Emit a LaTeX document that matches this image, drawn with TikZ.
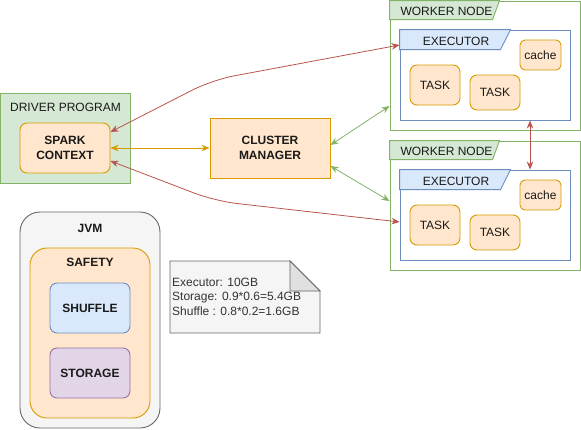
\documentclass[tikz,border=0pt]{standalone}
\usepackage{fontspec}
\setmainfont{Liberation Sans}
\usetikzlibrary{arrows.meta,calc}
\definecolor{gfill}{HTML}{D5E8D4}
\definecolor{gline}{HTML}{82B366}
\definecolor{ofill}{HTML}{FFE6CC}
\definecolor{oline}{HTML}{D79B00}
\definecolor{bfill}{HTML}{DAE8FC}
\definecolor{bline}{HTML}{6C8EBF}
\definecolor{pfill}{HTML}{E1D5E7}
\definecolor{pline}{HTML}{9673A6}
\definecolor{kfill}{HTML}{F5F5F5}
\definecolor{kline}{HTML}{666666}
\definecolor{kfold}{HTML}{E0E0E0}
\definecolor{rline}{HTML}{B85450}
\definecolor{txt}{HTML}{1A1A1A}
\tikzset{
  base/.style={draw, line width=0.9pt, inner sep=0pt, align=center, text=txt},
  greenbox/.style={base, fill=gfill, draw=gline},
  orangebox/.style={base, fill=ofill, draw=oline},
  orangeround/.style={orangebox, rounded corners=7pt},
  bluebox/.style={base, fill=bfill, draw=bline, rounded corners=7pt},
  purplebox/.style={base, fill=pfill, draw=pline, rounded corners=7pt},
  graybox/.style={base, fill=kfill, draw=kline, rounded corners=20pt},
  container/.style={base, fill=white},
  tabshape/.style={line width=0.9pt},
  lbl/.style={inner sep=0pt, text=txt},
  conn/.style={line width=0.8pt, {Stealth[length=8pt,width=6.5pt,inset=2.5pt]}-{Stealth[length=8pt,width=6.5pt,inset=2.5pt]}},
  redconn/.style={conn, draw=rline, rounded corners=22pt},
  greenconn/.style={conn, draw=gline},
  yellowconn/.style={conn, draw=oline},
}
\begin{document}
\begin{tikzpicture}[x=1pt,y=-1pt,font=\fontsize{12}{14.5}\selectfont]
\useasboundingbox (0,0) rectangle (581,429);
% driver
\node[greenbox, minimum width=130pt, minimum height=90pt] (drv) at (65.5,138) {};
\node[lbl] (drvl) at (65.5,107) {DRIVER PROGRAM};
\node[orangeround, minimum width=90pt, minimum height=50pt, font=\fontsize{12}{14.5}\selectfont\bfseries] (sc) at (65,148) {SPARK\\CONTEXT};
% cluster manager
\node[orangebox, minimum width=120pt, minimum height=60pt, font=\fontsize{12}{14.5}\selectfont\bfseries] (cm) at (270,148) {CLUSTER\\MANAGER};
% worker nodes
\foreach \n/\y in {1/0,2/140}{
  \node[container, draw=gline, minimum width=190pt, minimum height=129pt] (w\n) at (485,65.5+\y) {};
  \draw[tabshape, fill=gfill, draw=gline] (w\n.north west) -- ++(110,0) -- ++(-7,19) -- ++(-103,0) -- cycle;
  \node[lbl] (w\n l) at (446.5,11.5+\y) {WORKER NODE};
  \node[container, draw=bline, minimum width=170pt, minimum height=90pt] (ex\n) at (485,75+\y) {};
  \draw[tabshape, fill=bfill, draw=bline] (ex\n.north west) -- ++(111,0) -- ++(-10,20) -- ++(-101,0) -- cycle;
  \node[lbl] (ex\n l) at (456,41+\y) {EXECUTOR};
  \node[orangeround, rounded corners=5pt, minimum width=41pt, minimum height=30pt] (ca\n) at (540.5,55+\y) {cache};
  \node[orangeround, minimum width=50pt, minimum height=40pt] (ta\n) at (435,85+\y) {TASK};
  \node[orangeround, minimum width=50pt, minimum height=35pt] (tb\n) at (495,92.5+\y) {TASK};
}
% JVM
\node[graybox, minimum width=140pt, minimum height=216pt] (jvm) at (90,320) {};
\node[lbl, font=\fontsize{12}{14.5}\selectfont\bfseries] (jvml) at (90,228) {JVM};
\node[orangebox, rounded corners=17pt, minimum width=120pt, minimum height=170pt] (saf) at (90,333) {};
\node[lbl, font=\fontsize{12}{14.5}\selectfont\bfseries] (safl) at (90,262) {SAFETY};
\node[bluebox, minimum width=80pt, minimum height=50pt, font=\fontsize{12}{14.5}\selectfont\bfseries] (shu) at (90,308) {SHUFFLE};
\node[purplebox, minimum width=80pt, minimum height=50pt, font=\fontsize{12}{14.5}\selectfont\bfseries] (sto) at (90,373) {STORAGE};
% note
\draw[line width=0.9pt, fill=kfill, draw=kline] (170,261) -- (290,261) -- (320,291) -- (320,333) -- (170,333) -- cycle;
\draw[line width=0.9pt, fill=kfold, draw=kline] (290,261) -- (290,291) -- (320,291) -- cycle;
\node[lbl, anchor=north west, align=left, text=black!80] (note) at (172,277.5) {Executor: 10GB\\Storage: 0.9*0.6=5.4GB\\Shuffle : 0.8*0.2=1.6GB};
% connectors
\draw[yellowconn] (sc.east) -- (cm.west);
\draw[redconn] ($(sc.east)+(0,-16)$) -- (212,80) -- ($(ex1.west)+(0,-30)$);
\draw[redconn] ($(sc.east)+(0,13)$) -- (215,201) -- ($(ex2.west)+(0,7)$);
\draw[greenconn] ($(cm.east)+(0,-3)$) -- ($(w1.west)+(0,40.5)$);
\draw[greenconn] ($(cm.east)+(0,18)$) -- ($(w2.west)+(0,-4.5)$);
\draw[conn, draw=rline] ($(ex1.south)+(45,0)$) -- ($(ex2.north)+(45,0)$);
\end{tikzpicture}
\end{document}
